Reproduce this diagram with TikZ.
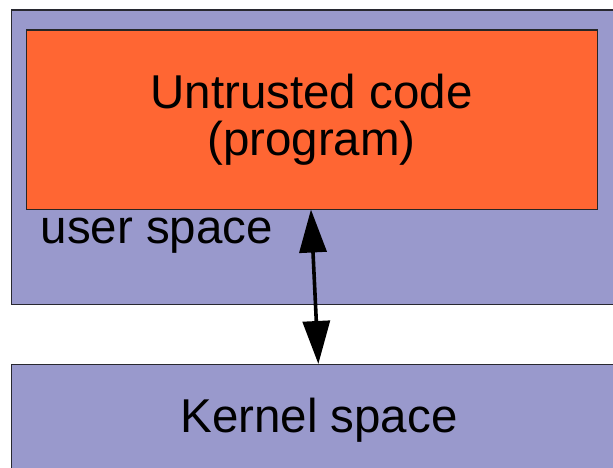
\documentclass[tikz,border=0pt]{standalone}
\usepackage{fontspec}
\setmainfont{Liberation Sans}
\usetikzlibrary{arrows.meta}
\definecolor{spacepurple}{RGB}{153,153,204}
\definecolor{codeorange}{RGB}{255,102,51}
\definecolor{edgegray}{RGB}{40,40,48}
\begin{document}
\begin{tikzpicture}[x=1pt,y=-1pt,
  spacebox/.style={draw=edgegray, line width=1.2pt, fill=spacepurple, anchor=north west, inner sep=0pt},
  codebox/.style={draw=black!85, line width=1.2pt, fill=codeorange, anchor=north west, inner sep=0pt},
  label/.style={font=\fontsize{47.5}{47}\selectfont, inner sep=0pt, text=black},
  link/.style={line width=3.6pt, {Triangle[length=43pt,width=27pt]}-{Triangle[length=43pt,width=27pt]}, shorten <=-1pt, shorten >=-1pt}]
\useasboundingbox (0,0) rectangle (613,468);
\clip (0,0) rectangle (613,468);
\node[spacebox, minimum width=615pt, minimum height=294.5pt] (user) at (11,9.5) {};
\node[codebox, minimum width=571pt, minimum height=179.5pt] (prog) at (26,29.5) {};
\node[spacebox, minimum width=615pt, minimum height=120pt] (kernel) at (11,364) {};
\node[label, anchor=base, align=center] (progtext) at (311.5,155) {Untrusted code\\(program)};
\node[label, anchor=base west] (usertext) at (40.5,243) {user space};
\node[label, anchor=base] (kerneltext) at (319,432) {Kernel space};
\coordinate (armtop) at (311,210.5);
\coordinate (armbot) at (318.3,363);
\draw[link] (armtop) -- (armbot);
\end{tikzpicture}
\end{document}
